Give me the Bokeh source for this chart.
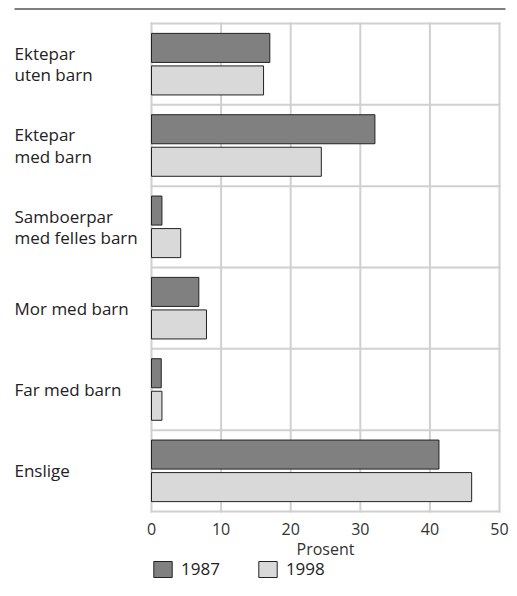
from bokeh.plotting import figure
from bokeh.models import Range1d, Legend, LegendItem, ColumnDataSource
from bokeh.core.properties import value
from bokeh.embed import file_html
from bokeh.resources import INLINE

categories = ["Ektepar\nuten barn", "Ektepar\nmed barn", "Samboerpar\nmed felles barn",
              "Mor med barn", "Far med barn", "Enslige"]
v1987 = [17.0, 32.1, 1.5, 6.8, 1.4, 41.3]
v1998 = [16.1, 24.4, 4.2, 7.9, 1.5, 46.0]
years = ["1987", "1998"]
x_ticks = [0, 10, 20, 30, 40, 50]
x_title = "Prosent"

FONT = "Open Sans"
n = len(categories)
x_max = x_ticks[-1]
pos = [i + 0.5 for i in range(n)]

# layout in pixels (canvas coordinates)
W, H = 509, 580
x0_px, xmax_px = 151, 499          # where 0 and 50 fall
cat_top_px, cat_bot_px = 23, 511   # top / bottom of category block
label_px = 14                      # left edge of category labels
ppx = (xmax_px - x0_px) / x_max
ppy = (cat_bot_px - cat_top_px) / n

def xd(px):
    return (px - x0_px) / ppx

def yd(py):
    return (py - cat_top_px) / ppy

x_range = Range1d(xd(0), xd(W))
y_range = Range1d(yd(H), yd(0))

p = figure(width=W, height=H, x_range=x_range, y_range=y_range,
           output_backend="svg", toolbar_location=None,
           x_axis_location=None, y_axis_location=None,
           min_border=0, min_border_left=0, min_border_right=0,
           min_border_top=0, min_border_bottom=0)
p.background_fill_color = "white"
p.border_fill_color = "white"
p.outline_line_color = None
p.xgrid.visible = False
p.ygrid.visible = False

GRID = "#d0d0d0"
# grid lines limited to the plotting box
p.segment(x0=x_ticks, x1=x_ticks, y0=[0] * len(x_ticks), y1=[n] * len(x_ticks),
          line_color=GRID, line_width=2, line_cap="square")
p.segment(x0=[0] * (n + 1), x1=[x_max] * (n + 1), y0=list(range(n + 1)), y1=list(range(n + 1)),
          line_color=GRID, line_width=2, line_cap="square")

src1 = ColumnDataSource(dict(y=[c - 0.2 for c in pos], right=v1987))
src2 = ColumnDataSource(dict(y=[c + 0.2 for c in pos], right=v1998))
r1 = p.hbar(y="y", right="right", left=0, height=0.357, source=src1,
            fill_color="#808080", line_color="#222222", line_width=1)
r2 = p.hbar(y="y", right="right", left=0, height=0.357, source=src2,
            fill_color="#d9d9d9", line_color="#222222", line_width=1)

# category labels
p.text(x=[xd(label_px)] * n, y=pos, text=categories, text_align="left",
       text_baseline="middle", text_font=value(FONT), text_font_size="17px",
       text_color="#222222", text_line_height=0.92)

# x tick labels and title
p.text(x=x_ticks, y=[yd(528)] * len(x_ticks), text=[str(t) for t in x_ticks],
       text_align="center", text_baseline="middle", text_font=value(FONT),
       text_font_size="16px", text_color="#333333")
p.text(x=[x_max / 2], y=[yd(548)], text=[x_title], text_align="center",
       text_baseline="middle", text_font=value(FONT), text_font_size="16px",
       text_color="#333333")

# top rule
p.segment(x0=[xd(label_px)], x1=[xd(505)], y0=[yd(8.5)], y1=[yd(8.5)],
          line_color="#555555", line_width=1.3)

legend = Legend(items=[LegendItem(label=years[0], renderers=[r1]),
                       LegendItem(label=years[1], renderers=[r2])],
                orientation="horizontal", location=(x0_px, 0),
                glyph_width=23, glyph_height=20, label_standoff=7, spacing=36,
                padding=0, margin=0, border_line_color=None, background_fill_alpha=0,
                label_text_font=FONT, label_text_font_size="17px", label_text_color="#222222",
                label_height=17)
p.add_layout(legend, "center")

open("out.html", "w").write(file_html(p, INLINE))
